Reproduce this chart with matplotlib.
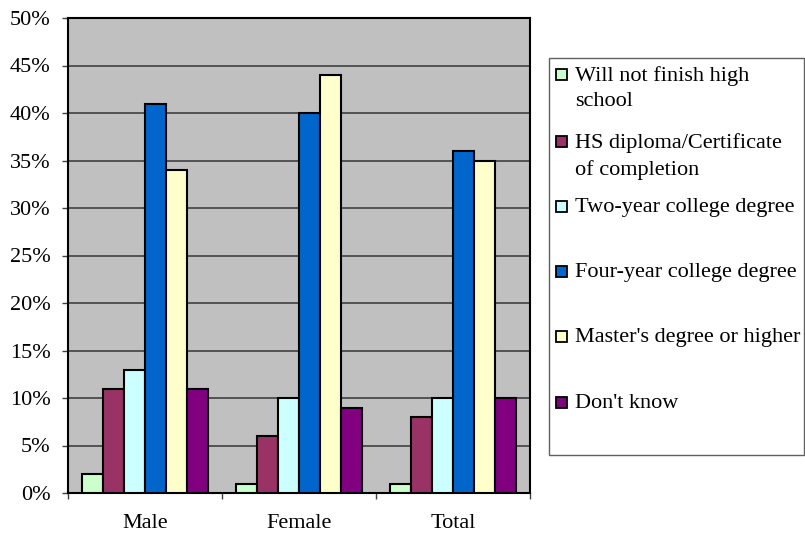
import numpy as np
import matplotlib.pyplot as plt
from matplotlib.patches import Rectangle
from matplotlib.ticker import FuncFormatter, FixedLocator

plt.rcParams['font.family'] = ['Liberation Serif', 'DejaVu Serif']

groups = ['Male', 'Female', 'Total']
labels = ['Will not finish high\nschool',
          'HS diploma/Certificate\nof completion',
          'Two-year college degree',
          'Four-year college degree',
          "Master's degree or higher",
          "Don't know"]
will_not_finish = [2, 1, 1]
hs_diploma = [11, 6, 8]
two_year = [13, 10, 10]
four_year = [41, 40, 36]
masters = [34, 44, 35]
dont_know = [11, 9, 10]
series = [will_not_finish, hs_diploma, two_year, four_year, masters, dont_know]
colors = ['#CCFFCC', '#993366', '#CCFFFF', '#0066CC', '#FFFFCC', '#800080']

fs = 16
fig = plt.figure(figsize=(8.05, 5.35), dpi=100)
W, H = 805, 535
ax = fig.add_axes([68 / W, 1 - 493 / H, (530 - 68) / W, (493 - 18) / H])
ax.set_facecolor('#C0C0C0')

x = np.arange(len(groups))
bw = 0.136
for i, (vals, c) in enumerate(zip(series, colors)):
    ax.bar(x + (i - 2.5) * bw, vals, bw, color=c, edgecolor='black',
           linewidth=1.5, zorder=3)

ax.set_xlim(-0.5, 2.5)
ax.set_ylim(0, 50)
ax.set_yticks(np.arange(0, 51, 5))
ax.yaxis.set_major_formatter(FuncFormatter(lambda v, p: f'{v:.0f}%'))
ax.grid(axis='y', color='#404040', linewidth=1.2, zorder=1)
ax.set_xticks(x)
ax.set_xticklabels(groups)
ax.xaxis.set_minor_locator(FixedLocator([-0.5, 0.5, 1.5, 2.5]))
ax.tick_params(axis='x', which='major', length=0, pad=15, labelsize=fs)
ax.tick_params(axis='x', which='minor', length=4.5, width=1, color='#404040')
ax.tick_params(axis='y', length=4.5, width=1, color='#404040', labelsize=fs, pad=8)
for s in ax.spines.values():
    s.set_linewidth(1.5)
    s.set_color('black')

# legend box drawn by hand
fig.patches.append(Rectangle((549 / W, 1 - 455 / H), (804 - 549) / W, (455 - 58) / H,
                             transform=fig.transFigure, facecolor='white',
                             edgecolor='#606060', linewidth=1))
ys = [75, 142, 207, 272, 337, 403]
for lab, c, yy in zip(labels, colors, ys):
    fig.patches.append(Rectangle((556 / W, 1 - (yy + 5) / H), 11 / W, 11 / H,
                                 transform=fig.transFigure, facecolor=c,
                                 edgecolor='black', linewidth=1.3))
    fig.text(575 / W, 1 - (yy - 9) / H, lab, fontsize=fs, va='top', ha='left',
             linespacing=1.45)

fig.savefig('out.png', dpi=100)
